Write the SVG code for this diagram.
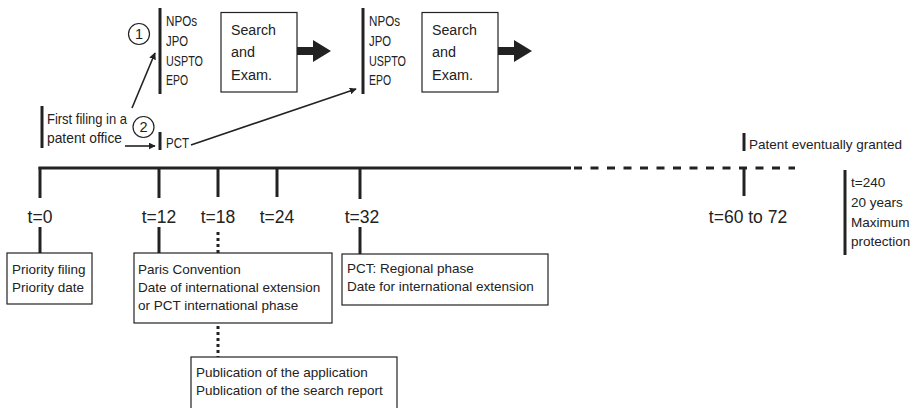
<svg xmlns="http://www.w3.org/2000/svg" width="915" height="408" viewBox="0 0 915 408">
<style>
text{font-family:"Liberation Sans",Arial,sans-serif;fill:#222}
.t{font-size:17.5px;text-anchor:middle}
.b{font-size:13.5px}
.o{font-size:14.5px}
.s{font-size:15.5px}
.f{font-size:14.5px}
.box{fill:#fff;stroke:#222;stroke-width:1.2}
.bar{stroke:#222;stroke-width:3;fill:none}
.thin{stroke:#222;stroke-width:1.6;fill:none}
.dot{stroke:#222;stroke-width:3;stroke-dasharray:3 3;fill:none}
</style>
<defs>
<marker id="ah" viewBox="0 0 10 10" refX="9" refY="5" markerWidth="7" markerHeight="7" orient="auto" markerUnits="userSpaceOnUse">
<path d="M0,0 L10,5 L0,10 Z" fill="#222"/>
</marker>
</defs>
<g id="connectors">
<line class="thin" x1="132" y1="108" x2="155" y2="53" marker-end="url(#ah)"/>
<line class="thin" x1="125" y1="146" x2="155" y2="146" marker-end="url(#ah)"/>
<line class="thin" x1="191" y1="145" x2="356" y2="89" marker-end="url(#ah)"/>
<polygon points="297,47 313,47 313,40 331,51 313,62 313,55 297,55" fill="#222"/>
<polygon points="498,47 514,47 514,40 532,51 514,62 514,55 498,55" fill="#222"/>
</g>
<g id="timeline">
<line class="bar" x1="38.5" y1="168" x2="571" y2="168"/>
<line class="bar" x1="574" y1="168" x2="795" y2="168" stroke-dasharray="8 8.5"/>
<line class="bar" x1="40" y1="167" x2="40" y2="198"/>
<line class="bar" x1="159" y1="167" x2="159" y2="198"/>
<line class="bar" x1="218" y1="167" x2="218" y2="197"/>
<line class="bar" x1="277" y1="167" x2="277" y2="197"/>
<line class="bar" x1="360" y1="167" x2="360" y2="199"/>
<line class="bar" x1="744" y1="167" x2="744" y2="196"/>
<line class="bar" x1="40" y1="227" x2="40" y2="253"/>
<line class="bar" x1="159" y1="227" x2="159" y2="253"/>
<line class="dot" x1="218" y1="232" x2="218" y2="253"/>
<line class="bar" x1="360" y1="227" x2="360" y2="254"/>
<line class="dot" x1="218" y1="326" x2="218" y2="357"/>
<text class="t" x="40" y="223">t=0</text>
<text class="t" x="159" y="223">t=12</text>
<text class="t" x="218" y="223">t=18</text>
<text class="t" x="277" y="223">t=24</text>
<text class="t" x="362" y="223">t=32</text>
<text class="t" x="748" y="223">t=60 to 72</text>
</g>
<g id="first-filing">
<line class="bar" x1="42" y1="106" x2="42" y2="148"/>
<text class="f" x="47" y="124" textLength="80" lengthAdjust="spacingAndGlyphs">First filing in a</text>
<text class="f" x="47" y="143" textLength="75" lengthAdjust="spacingAndGlyphs">patent office</text>
</g>
<g id="circle1">
<circle cx="139" cy="34" r="10.5" fill="none" stroke="#222" stroke-width="1.2"/>
<text class="o" x="139" y="39" text-anchor="middle">1</text>
</g>
<g id="circle2">
<circle cx="143.5" cy="127" r="10.5" fill="none" stroke="#222" stroke-width="1.2"/>
<text class="o" x="143.5" y="132" text-anchor="middle">2</text>
</g>
<g id="offices1">
<line class="bar" x1="160" y1="8" x2="160" y2="94"/>
<text class="o" x="166" y="26" textLength="31" lengthAdjust="spacingAndGlyphs">NPOs</text>
<text class="o" x="166" y="46" textLength="22" lengthAdjust="spacingAndGlyphs">JPO</text>
<text class="o" x="166" y="66" textLength="37" lengthAdjust="spacingAndGlyphs">USPTO</text>
<text class="o" x="166" y="85" textLength="22" lengthAdjust="spacingAndGlyphs">EPO</text>
</g>
<g id="pct">
<line class="bar" x1="160" y1="132" x2="160" y2="150"/>
<text class="o" x="166" y="148" textLength="23" lengthAdjust="spacingAndGlyphs">PCT</text>
</g>
<g id="search1">
<rect class="box" x="221" y="12.5" width="76" height="79.5"/>
<text class="s" x="231" y="35" textLength="45" lengthAdjust="spacingAndGlyphs">Search</text>
<text class="s" x="231" y="57" textLength="24" lengthAdjust="spacingAndGlyphs">and</text>
<text class="s" x="231" y="80" textLength="41" lengthAdjust="spacingAndGlyphs">Exam.</text>
</g>
<g id="offices2">
<line class="bar" x1="363" y1="8" x2="363" y2="94"/>
<text class="o" x="369" y="26" textLength="31" lengthAdjust="spacingAndGlyphs">NPOs</text>
<text class="o" x="369" y="46" textLength="22" lengthAdjust="spacingAndGlyphs">JPO</text>
<text class="o" x="369" y="66" textLength="37" lengthAdjust="spacingAndGlyphs">USPTO</text>
<text class="o" x="369" y="85" textLength="22" lengthAdjust="spacingAndGlyphs">EPO</text>
</g>
<g id="search2">
<rect class="box" x="422" y="12.5" width="76" height="79.5"/>
<text class="s" x="432" y="35" textLength="45" lengthAdjust="spacingAndGlyphs">Search</text>
<text class="s" x="432" y="57" textLength="24" lengthAdjust="spacingAndGlyphs">and</text>
<text class="s" x="432" y="80" textLength="41" lengthAdjust="spacingAndGlyphs">Exam.</text>
</g>
<g id="granted">
<line class="bar" x1="744" y1="133" x2="744" y2="151"/>
<text class="b" x="749" y="149">Patent eventually granted</text>
</g>
<g id="max-protection">
<line class="bar" x1="845" y1="170" x2="845" y2="255"/>
<text class="b" x="851" y="187">t=240</text>
<text class="b" x="851" y="207">20 years</text>
<text class="b" x="851" y="227">Maximum</text>
<text class="b" x="851" y="246">protection</text>
</g>
<g id="priority">
<rect class="box" x="7" y="253" width="85" height="51"/>
<text class="b" x="12" y="274">Priority filing</text>
<text class="b" x="12" y="292">Priority date</text>
</g>
<g id="paris">
<rect class="box" x="134" y="253" width="198" height="70"/>
<text class="b" x="138" y="274">Paris Convention</text>
<text class="b" x="138" y="292">Date of international extension</text>
<text class="b" x="138" y="310">or PCT international phase</text>
</g>
<g id="regional">
<rect class="box" x="342" y="254" width="206" height="51"/>
<text class="b" x="347" y="273">PCT: Regional phase</text>
<text class="b" x="347" y="291">Date for international extension</text>
</g>
<g id="publication">
<rect class="box" x="191" y="357" width="206" height="60"/>
<text class="b" x="196" y="377">Publication of the application</text>
<text class="b" x="196" y="395">Publication of the search report</text>
</g>
</svg>
